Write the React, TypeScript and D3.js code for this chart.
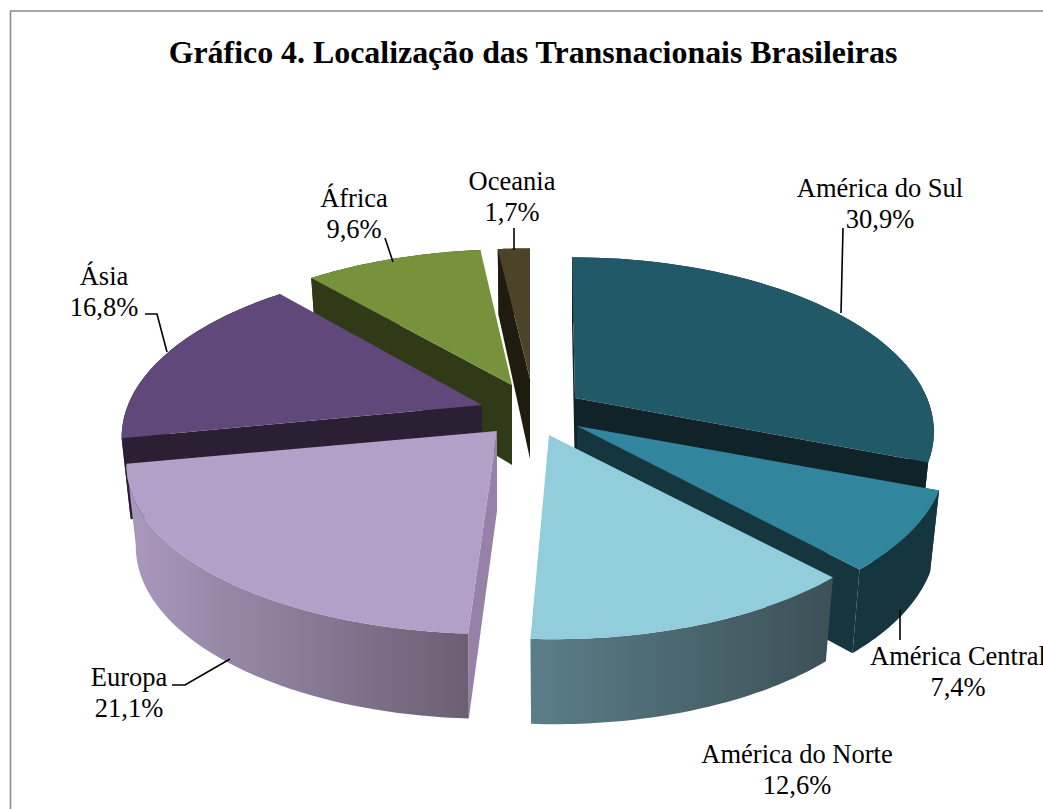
import React from "react";
import * as d3 from "d3";

const categories = ["América do Sul", "América Central", "América do Norte", "Europa", "Ásia", "África", "Oceania"];
const shares = [30.9, 7.4, 12.6, 21.1, 16.8, 9.6, 1.7];
const shareLabels = ["30,9%", "7,4%", "12,6%", "21,1%", "16,8%", "9,6%", "1,7%"];
const topColors = ["#215968", "#31859C", "#92CDDC", "#B1A0C7", "#60497A", "#76933C", "#4C4329"];
const faceColors = ["#0F2329", "#15363F", "#3D5158", "#9682A8", "#2A1F33", "#303A17", "#1F1B0F"];
const wallLeft = ["#0F2329", "#15363F", "#5A7E88", "#A897BB", "#2A1F33", "#303A17", "#1F1B0F"];
const wallRight = ["#0F2329", "#15363F", "#3D5158", "#6B5F72", "#2A1F33", "#303A17", "#1F1B0F"];
const apexX = [575, 577, 549, 497, 482, 512, 530];
const apexY = [398, 426, 435, 431, 405, 385, 379];
const radiusX = [352, 362, 359, 363, 354, 352, 359];
const radiusY = [167, 167, 166, 165, 167, 161, 155];
const skew = [3, 0, 5, -5, 0, 0, 0];
const showStartFace = [true, true, false, true, true, true, true];
const showEndFace = [true, true, false, false, false, false, false];
const paintOrder = [6, 5, 4, 0, 1, 2, 3];

const labelX = [880, 958, 797, 129, 104, 354, 512];
const labelY = [197, 665, 763, 686, 285, 207, 190];
const leaders: [number, number][][] = [
  [[843, 228], [841, 313]],
  [[900, 610], [900, 640]],
  [],
  [[172, 685], [185, 685], [230, 659]],
  [[145, 314], [157, 314], [167, 352]],
  [[385, 238], [393, 262]],
  [[514, 228], [514, 250]],
];

const K = 0.187;

const pie = d3.pie<number>().sort(null).value((d) => d).startAngle(0).endAngle(2 * Math.PI);
const lineGen = d3.line<[number, number]>();

function project(i: number, a: number, bottom: boolean): [number, number] {
  const u = Math.sin(a);
  const v = -Math.cos(a);
  const w = 1 / (1 - K * v);
  const depth = bottom ? (v > 0 ? 80 + 5 * v : 80 + 14 * v) : 0;
  const sx = bottom ? 0.975 : 1;
  return [apexX[i] + radiusX[i] * u * w * sx + skew[i] * v, apexY[i] + radiusY[i] * v * w + depth];
}

function arcPoints(i: number, a0: number, a1: number, bottom: boolean): [number, number][] {
  const n = 48;
  const s = d3.scaleLinear().domain([0, n]).range([a0, a1]);
  return d3.range(n + 1).map((t) => project(i, s(t), bottom));
}

const apex = (i: number, bottom: boolean): [number, number] => [
  apexX[i],
  apexY[i] + (bottom ? 80 : 0),
];

export default function App() {
  const arcs = pie(shares);
  const serif = "'Liberation Serif', 'Times New Roman', serif";
  return (
    <svg width={1043} height={809} style={{ position: "absolute", left: 0, top: 0, background: "#fff" }}>
      <defs>
        {arcs.map((arc, i) => {
          const xs = arcPoints(i, arc.startAngle, arc.endAngle, true).map((p) => p[0]);
          const left = d3.min(xs) as number;
          const right = d3.max(xs) as number;
          return (
            <linearGradient key={i} id={`wall${i}`} gradientUnits="userSpaceOnUse" x1={left} x2={right} y1={0} y2={0}>
              <stop offset="0%" stopColor={wallLeft[i]} />
              <stop offset="100%" stopColor={wallRight[i]} />
            </linearGradient>
          );
        })}
      </defs>
      <path d="M1043 11H10.5V809" fill="none" stroke="#8c8c8c" strokeWidth={1.6} />
      <text x={533} y={63} textAnchor="middle" fontFamily={serif} fontWeight="bold" fontSize={31.9} fill="#000">
        Gráfico 4. Localização das Transnacionais Brasileiras
      </text>
      {paintOrder.map((i) => {
        const arc = arcs[i];
        const top = arcPoints(i, arc.startAngle, arc.endAngle, false);
        const bot = arcPoints(i, arc.startAngle, arc.endAngle, true);
        const wall = lineGen([...top, ...bot.slice().reverse()]) + "Z";
        const startFace = lineGen([apex(i, false), top[0], bot[0], apex(i, true)]) + "Z";
        const endFace = lineGen([apex(i, false), top[top.length - 1], bot[bot.length - 1], apex(i, true)]) + "Z";
        const topFace = lineGen([apex(i, false), ...top]) + "Z";
        return (
          <g key={categories[i]}>
            {showEndFace[i] && <path d={endFace} fill={faceColors[i]} />}
            {showStartFace[i] && <path d={startFace} fill={faceColors[i]} />}
            <path d={wall} fill={`url(#wall${i})`} />
            <path d={topFace} fill={topColors[i]} />
          </g>
        );
      })}
      {leaders.map((pts, i) =>
        pts.length ? <path key={i} d={lineGen(pts) as string} fill="none" stroke="#000" strokeWidth={1.6} /> : null
      )}
      {categories.map((c, i) => (
        <text key={c} textAnchor="middle" fontFamily={serif} fontSize={26.5} fill="#000">
          <tspan x={labelX[i]} y={labelY[i]}>{c}</tspan>
          <tspan x={labelX[i]} y={labelY[i] + 30.5}>{shareLabels[i]}</tspan>
        </text>
      ))}
    </svg>
  );
}
